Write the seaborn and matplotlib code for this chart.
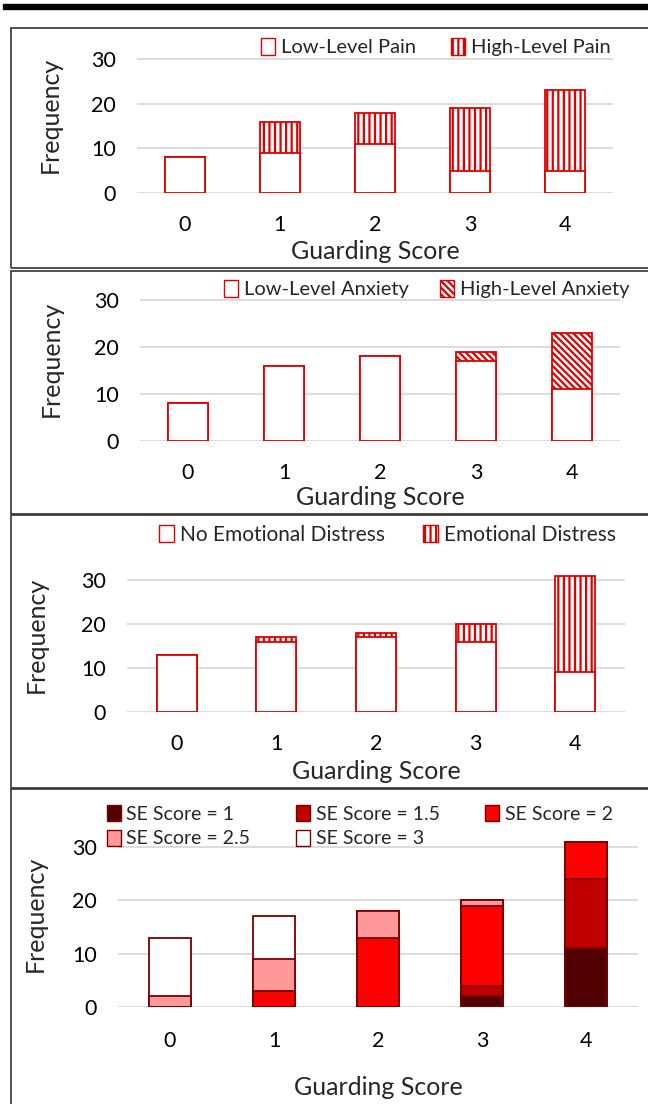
import numpy as np
import pandas as pd
import seaborn as sns
import matplotlib
matplotlib.use("Agg")
import matplotlib.pyplot as plt
from matplotlib.patches import Rectangle, Patch

# ---- data ----
scores = ["0", "1", "2", "3", "4"]

pain_low = [8, 9, 11, 5, 5]
pain_high = [0, 7, 7, 14, 18]

anx_low = [8, 16, 18, 17, 11]
anx_high = [0, 0, 0, 2, 12]

ed_no = [13, 16, 17, 16, 9]
ed_yes = [0, 1, 1, 4, 22]

se_labels = ["SE Score = 1", "SE Score = 1.5", "SE Score = 2", "SE Score = 2.5", "SE Score = 3"]
se_1 = [0, 0, 0, 2, 11]
se_15 = [0, 0, 0, 2, 13]
se_2 = [0, 3, 13, 15, 7]
se_25 = [2, 6, 5, 1, 0]
se_3 = [11, 8, 0, 0, 0]
se_colors = ["#500000", "#c00000", "#ff0000", "#ff9999", "#ffffff"]

sns.set_theme(style="white")
plt.rcParams['font.family'] = ['Lato', 'DejaVu Sans']
plt.rcParams['hatch.linewidth'] = 1.6

W, H = 648, 1104
fig = plt.figure(figsize=(W / 100, H / 100), dpi=100)
RED = "#e00000"
DIAG = "\\\\\\\\\\"
VERT = "|||"


def px_axes(left, right, y0, y30):
    # place axes from pixel positions of the 0 and 30 gridlines
    ppu = (y0 - y30) / 30.0
    return fig.add_axes([left / W, 1 - y0 / H, (right - left) / W, 35 * ppu / H])


def stacked(ax, layers, colors, hatches, edge, width):
    # draw cumulative totals from the top layer down so lower layers cover them
    cum = np.cumsum(np.array(layers, dtype=float), axis=0)
    for i in range(len(layers) - 1, -1, -1):
        df = pd.DataFrame({"score": scores, "n": cum[i]})
        sns.barplot(data=df, x="score", y="n", ax=ax, color=colors[i], saturation=1,
                    edgecolor=edge, linewidth=1.3, hatch=hatches[i], width=width,
                    errorbar=None)


def style(ax, xlab_top, ylab_right, tickx_pad):
    ax.set_ylim(0, 35)
    ax.set_xlim(-0.5, 4.5)
    ax.set_yticks([0, 10, 20, 30])
    ax.yaxis.grid(True, color="#d9d9d9", linewidth=1.3)
    ax.set_axisbelow(True)
    for s in ax.spines.values():
        s.set_visible(False)
    ax.tick_params(axis="both", length=0, labelsize=15.5, colors="black")
    ax.tick_params(axis="y", pad=15)
    ax.tick_params(axis="x", pad=tickx_pad)
    ax.set_xlabel("Guarding Score", fontsize=18)
    ax.set_ylabel("Frequency", fontsize=18)
    bb = ax.get_position()
    ax.xaxis.set_label_coords(0.5, (1 - xlab_top / H - bb.y0) / bb.height)
    ax.yaxis.set_label_coords((ylab_right / W - bb.x0) / bb.width, 0.5)


def two_legend(ax, labels, hatch, x, y, gap, fs=14.5):
    ax.legend(handles=[Patch(facecolor="white", edgecolor=RED, label=labels[0]),
                       Patch(facecolor="white", edgecolor=RED, hatch=hatch, label=labels[1])],
              ncol=2, frameon=False, fontsize=fs, handlelength=0.7, handleheight=0.9,
              handletextpad=0.3, columnspacing=gap, borderpad=0, borderaxespad=0,
              loc="center left", bbox_to_anchor=(x / W, 1 - y / H), bbox_transform=fig.transFigure)


# ---- panel borders and top rule ----
fig.add_artist(Rectangle((3 / W, 1 - 8.5 / H), 1, 5 / H, transform=fig.transFigure, color="black"))
for top, bot in [(28, 268), (271, 514), (515, 788), (789, 1110)]:
    fig.add_artist(Rectangle((11 / W, 1 - bot / H), 1.0, (bot - top) / H, transform=fig.transFigure,
                             fill=False, edgecolor="#333333", linewidth=1.2))

# ---- panel 1: pain ----
ax1 = px_axes(137, 613, 193, 59)
stacked(ax1, [pain_low, pain_high], ["white", "white"], [None, VERT], RED, 0.42)
style(ax1, 240, 62, 16)
two_legend(ax1, ["Low-Level Pain", "High-Level Pain"], VERT, 261, 47, 1.7)

# ---- panel 2: anxiety ----
ax2 = px_axes(140, 620, 441, 300)
stacked(ax2, [anx_low, anx_high], ["white", "white"], [None, DIAG], RED, 0.42)
style(ax2, 486, 63, 16)
two_legend(ax2, ["Low-Level Anxiety", "High-Level Anxiety"], DIAG, 224, 289, 1.55)

# ---- panel 3: emotional distress ----
ax3 = px_axes(127, 625, 712, 580)
stacked(ax3, [ed_no, ed_yes], ["white", "white"], [None, VERT], RED, 0.4)
style(ax3, 760, 48, 16)
two_legend(ax3, ["No Emotional Distress", "Emotional Distress"], VERT, 159, 535, 1.85, fs=15)

# ---- panel 4: SE score ----
ax4 = px_axes(118, 638, 1007, 847)
stacked(ax4, [se_1, se_15, se_2, se_25, se_3], se_colors, [None] * 5, "#7a0000", 0.4)
style(ax4, 1076, 47, 17)
order = [0, 3, 1, 4, 2]
ax4.legend(handles=[Patch(facecolor=se_colors[i], edgecolor="#7a0000", label=se_labels[i]) for i in order],
           ncol=3, frameon=False, fontsize=14, handlelength=0.7, handleheight=0.9,
           handletextpad=0.3, columnspacing=2.35, labelspacing=0.35, borderpad=0, borderaxespad=0,
           loc="upper left", bbox_to_anchor=(107 / W, 1 - 805 / H), bbox_transform=fig.transFigure)

fig.savefig("out.png", dpi=100)
